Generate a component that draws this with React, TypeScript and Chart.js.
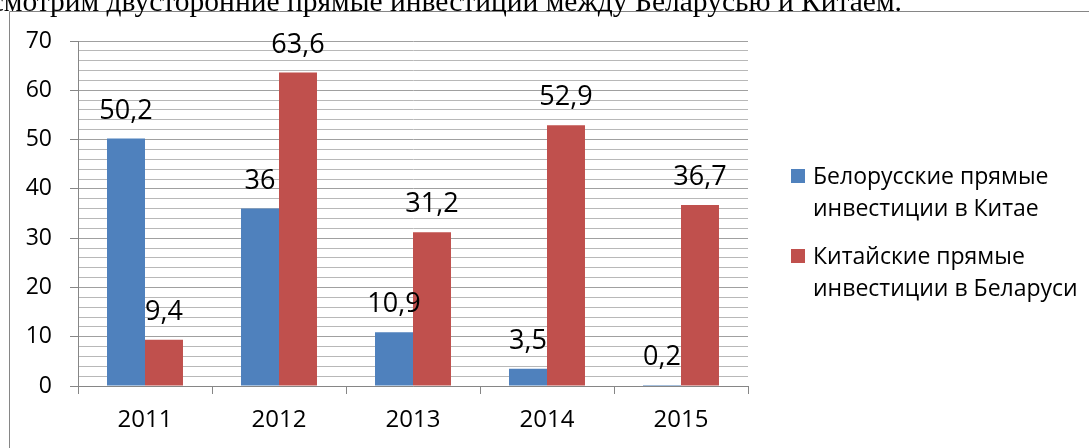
import React, { useEffect, useRef } from "react";
import { Chart, registerables } from "chart.js";

Chart.register(...registerables);

const categories = ["2011", "2012", "2013", "2014", "2015"];
const belarusInChina = [50.2, 36, 10.9, 3.5, 0.2];
const chinaInBelarus = [9.4, 63.6, 31.2, 52.9, 36.7];
const seriesNames = [
  "Белорусские прямые инвестиции в Китае",
  "Китайские прямые инвестиции в Беларуси",
];
const legendLines = [
  ["Белорусские прямые", "инвестиции в Китае"],
  ["Китайские прямые", "инвестиции в Беларуси"],
];
const headerText = "Рассмотрим двусторонние прямые инвестиции между Беларусью и Китаем.";

const BLUE = "#4F81BD";
const RED = "#C0504D";
const AXIS = "#868686";
const FONT = "'Open Sans', sans-serif";

const frameAndLegend = {
  id: "frameAndLegend",
  beforeDraw(chart: any) {
    const ctx = chart.ctx;
    ctx.save();
    ctx.fillStyle = "#ffffff";
    ctx.fillRect(0, 0, chart.width, chart.height);
    ctx.strokeStyle = AXIS;
    ctx.lineWidth = 1;
    ctx.beginPath();
    ctx.moveTo(9.5, chart.height);
    ctx.lineTo(9.5, 11.5);
    ctx.lineTo(chart.width, 11.5);
    ctx.stroke();
    ctx.restore();
  },
  afterDraw(chart: any) {
    const ctx = chart.ctx;
    ctx.save();
    chart.data.datasets.forEach((ds: any, i: number) => {
      const top = 169 + i * 80;
      ctx.fillStyle = ds.backgroundColor;
      ctx.fillRect(791, top, 14, 14);
      ctx.fillStyle = "#000";
      ctx.font = `23px ${FONT}`;
      ctx.textAlign = "left";
      ctx.textBaseline = "alphabetic";
      legendLines[i].forEach((line, j) => {
        ctx.fillText(line, 813, top + 15 + j * 32);
      });
    });
    ctx.restore();
  },
};

const valueLabels = {
  id: "valueLabels",
  afterDatasetsDraw(chart: any) {
    const ctx = chart.ctx;
    ctx.save();
    ctx.fillStyle = "#000";
    ctx.font = `27px ${FONT}`;
    ctx.textAlign = "center";
    ctx.textBaseline = "alphabetic";
    chart.data.datasets.forEach((ds: any, i: number) => {
      const meta = chart.getDatasetMeta(i);
      meta.data.forEach((bar: any, j: number) => {
        const v = ds.data[j];
        ctx.fillText(String(v).replace(".", ","), bar.x, bar.y - 20);
      });
    });
    ctx.restore();
  },
};

export default function App() {
  const ref = useRef<HTMLCanvasElement>(null);
  useEffect(() => {
    if (!ref.current) return;
    const chart = new Chart(ref.current, {
      type: "bar",
      data: {
        labels: categories,
        datasets: [
          { label: seriesNames[0], data: belarusInChina, backgroundColor: BLUE },
          { label: seriesNames[1], data: chinaInBelarus, backgroundColor: RED },
        ],
      },
      options: {
        responsive: false,
        animation: false,
        devicePixelRatio: 1,
        layout: { padding: { left: 0, top: 41, right: 341, bottom: 0 } },
        datasets: { bar: { categoryPercentage: 0.567, barPercentage: 1 } },
        plugins: { legend: { display: false }, tooltip: { enabled: false }, title: { display: false } },
        scales: {
          x: {
            grid: {
              offset: true,
              drawOnChartArea: false,
              drawTicks: true,
              tickLength: 8,
              color: AXIS,
            },
            border: { color: AXIS },
            ticks: { color: "#000", font: { family: FONT, size: 24 }, padding: 12, maxRotation: 0 },
            afterFit: (s: any) => {
              s.height = 62;
            },
          },
          y: {
            min: 0,
            max: 70,
            ticks: {
              stepSize: 2,
              autoSkip: false,
              color: "#000",
              font: { family: FONT, size: 23 },
              padding: 18,
              callback: (v: any) => (Number(v) % 10 === 0 ? String(v) : ""),
            },
            grid: {
              drawTicks: true,
              tickLength: 8,
              color: (c: any) => (c.tick && c.tick.value % 10 === 0 ? "#a0a0a0" : "#b8b8b8"),
              tickColor: (c: any) => (c.tick && c.tick.value % 10 === 0 ? AXIS : "rgba(0,0,0,0)"),
            },
            border: { color: AXIS },
            afterFit: (s: any) => {
              s.width = 78;
            },
          },
        },
      },
      plugins: [frameAndLegend, valueLabels],
    });
    return () => chart.destroy();
  }, []);

  return (
    <div style={{ position: "fixed", left: 0, top: 0, width: 1089, height: 448, overflow: "hidden", background: "#fff" }}>
      <canvas ref={ref} width={1089} height={448} style={{ position: "absolute", left: 0, top: 0 }} />
      <div
        style={{
          position: "absolute",
          right: 187,
          top: -13,
          whiteSpace: "nowrap",
          fontFamily: "'Liberation Serif', 'Times New Roman', serif",
          fontSize: 29.5,
          lineHeight: "28px",
          color: "#000",
        }}
      >
        {headerText}
      </div>
    </div>
  );
}
